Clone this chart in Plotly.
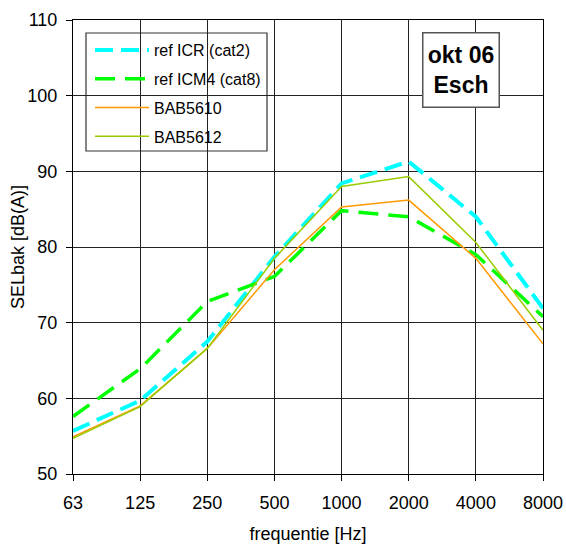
import plotly.graph_objects as go

categories = ["63", "125", "250", "500", "1000", "2000", "4000", "8000"]
ref_icr = [55.7, 59.7, 67.5, 78.7, 88.4, 91.3, 84.0, 71.9]
ref_icm4 = [57.6, 63.9, 72.8, 76.1, 84.8, 84.0, 79.0, 70.8]
bab5610 = [54.9, 59.0, 66.6, 77.0, 85.3, 86.2, 78.5, 67.2]
bab5612 = [54.7, 58.9, 66.6, 78.5, 88.0, 89.3, 80.6, 69.0]

FONT = "Arial, Liberation Sans, sans-serif"

fig = go.Figure()
series = [
    ("ref ICR (cat2)", ref_icr, dict(color="#00FFFF", width=4, dash="18px,8px")),
    ("ref ICM4 (cat8)", ref_icm4, dict(color="#00FF00", width=3.5, dash="20px,10px")),
    ("BAB5610", bab5610, dict(color="#FF9900", width=1.5)),
    ("BAB5612", bab5612, dict(color="#99CC00", width=1.5)),
]
for i, (name, vals, line) in enumerate(series):
    fig.add_trace(go.Scatter(x=categories, y=vals, mode="lines", name=name,
                             line=line, legendgroup=f"g{i}"))

W, H = 566, 544
L, R, T, B = 73, 23, 20, 70
pw, ph = W - L - R, H - T - B

def px2x(px):
    return (px - L) / pw

def px2y(py):
    return (H - B - py) / ph

fig.update_layout(
    width=W, height=H,
    margin=dict(l=L, r=R, t=T, b=B),
    paper_bgcolor="white", plot_bgcolor="white",
    font=dict(family=FONT, size=18, color="black"),
    showlegend=True,
    legend=dict(x=px2x(90), y=px2y(33), xanchor="left", yanchor="top",
                bgcolor="rgba(0,0,0,0)", borderwidth=0,
                font=dict(size=16), itemwidth=54, tracegroupgap=5),
    xaxis=dict(type="category", range=[0, 7], showgrid=True, gridcolor="#222",
               gridwidth=1, showline=True, linecolor="black", linewidth=1,
               mirror=True, ticks="outside", ticklen=6, tickcolor="black",
               ticklabelstandoff=6, automargin=False,
               title=dict(text="frequentie [Hz]", standoff=22, font=dict(size=18)),
               tickfont=dict(size=18)),
    yaxis=dict(range=[50, 110], dtick=10, showgrid=True, gridcolor="#222",
               gridwidth=1, showline=True, linecolor="black", linewidth=1,
               mirror=True, ticks="outside", ticklen=6, tickcolor="black",
               zeroline=False, ticklabelstandoff=5, automargin=False,
               tickfont=dict(size=18)),
    shapes=[dict(type="rect", xref="paper", yref="paper",
                 x0=px2x(86), x1=px2x(267), y0=px2y(151), y1=px2y(33),
                 fillcolor="white", line=dict(color="#333", width=1.2),
                 layer="between")],
    annotations=[
        dict(text="<b>okt 06</b><br><b>Esch</b>", xref="paper", yref="paper",
             x=px2x(461), y=px2y(70), xanchor="center", yanchor="middle",
             showarrow=False, font=dict(size=23, family=FONT),
             bgcolor="white", bordercolor="#555", borderwidth=1.5,
             width=75, height=73, borderpad=0),
        dict(text="SELbak [dB(A)]", xref="paper", yref="paper",
             x=px2x(18), y=0.5, xanchor="center", yanchor="middle",
             showarrow=False, textangle=-90, font=dict(size=18, family=FONT)),
    ],
)

fig.write_html("out.html")
